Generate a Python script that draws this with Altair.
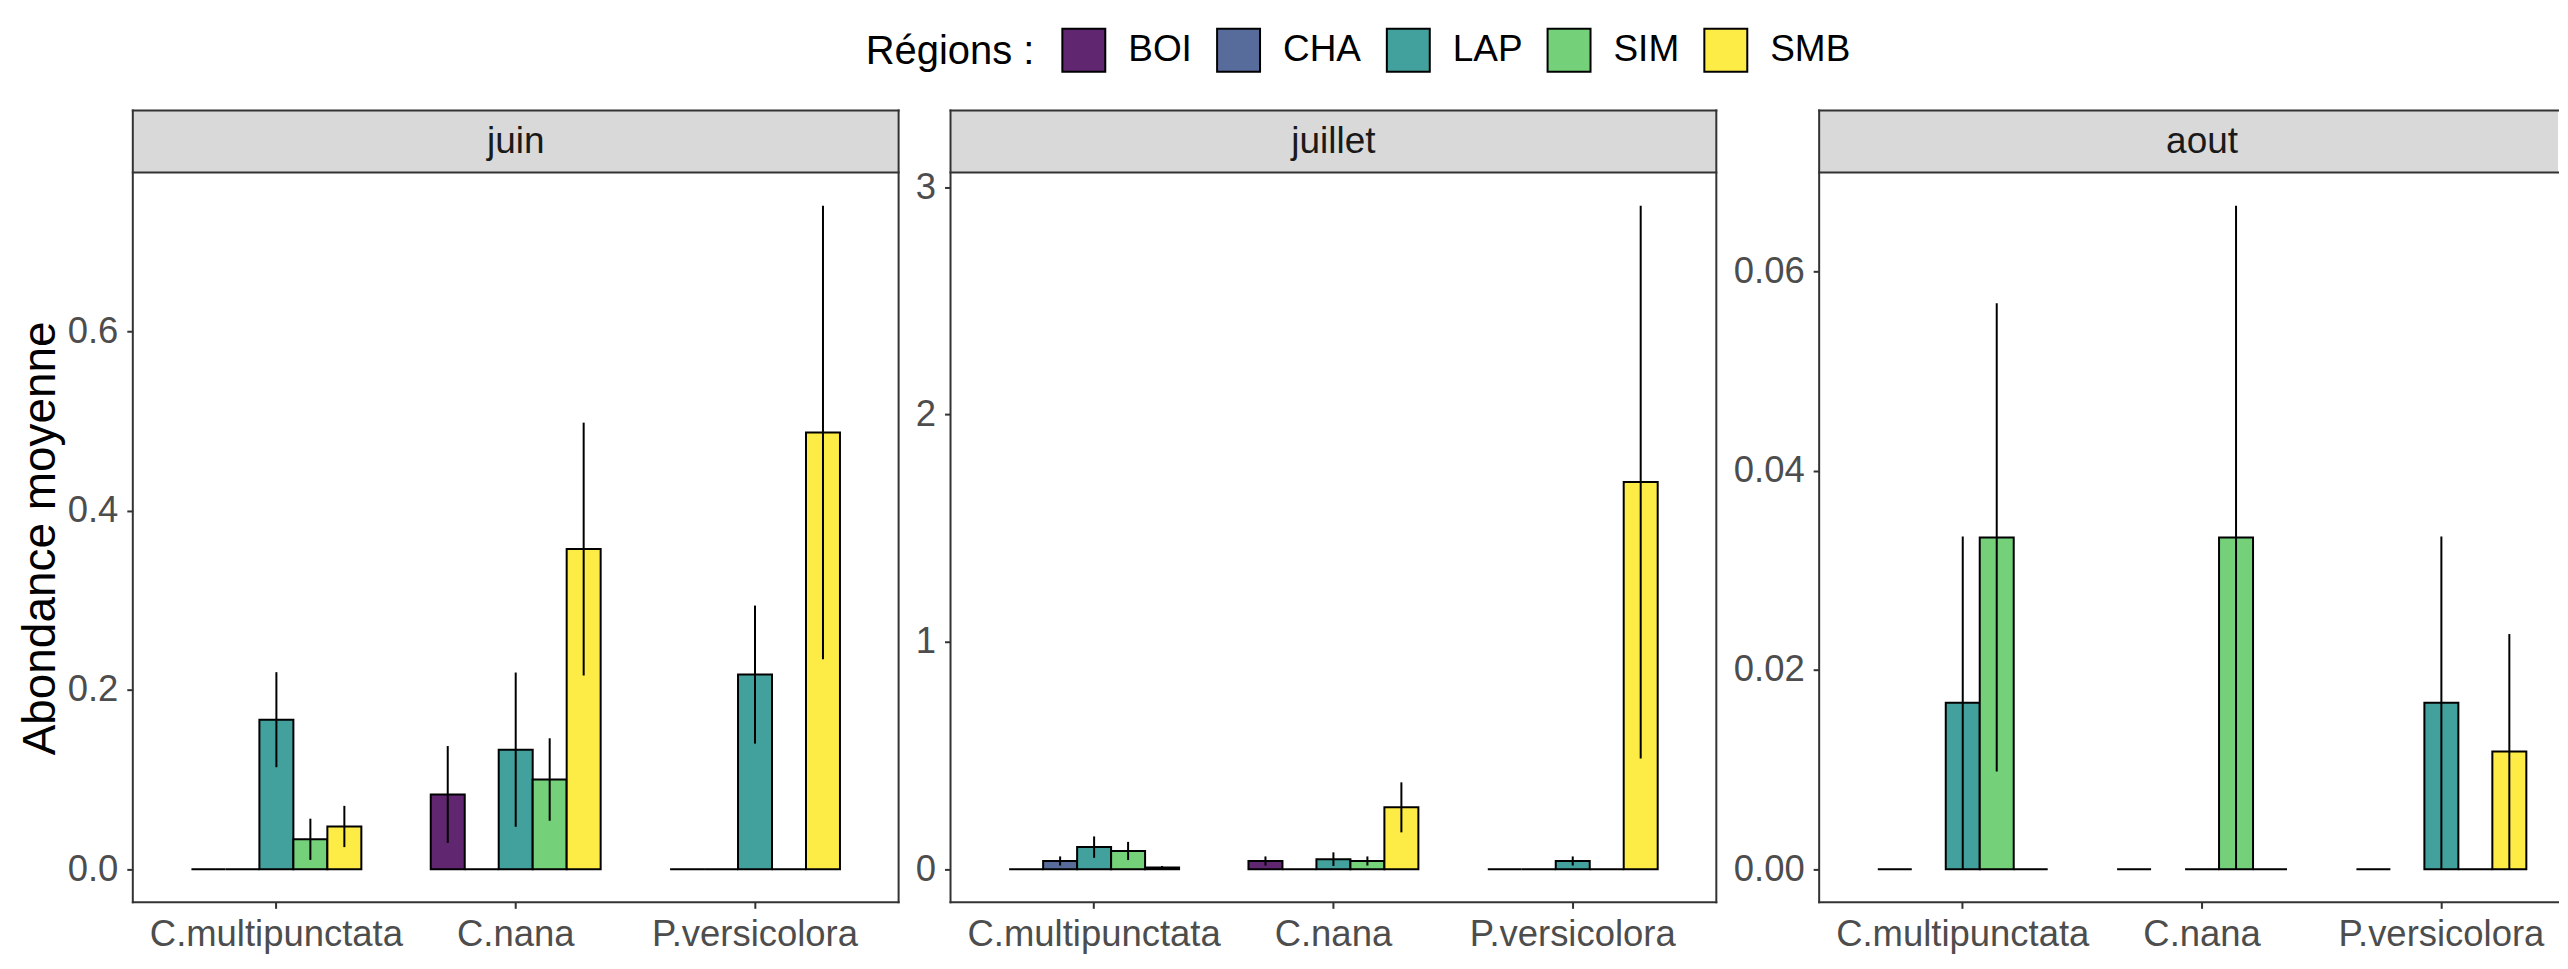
import altair as alt
import pandas as pd

FONT = "Liberation Sans"

regions = ["BOI", "CHA", "LAP", "SIM", "SMB"]
colors = ["#602770", "#586c9c", "#42a19d", "#75d07a", "#fdeb46"]
species = ["C.multipunctata", "C.nana", "P.versicolora"]

# juin : BOI, CHA, LAP, SIM, SMB for each species
juin_regions = ["BOI", "CHA", "LAP", "SIM", "SMB"]
juin_mean = [0, 0, 0.1667, 0.0333, 0.0476,
             0.0833, 0, 0.1333, 0.1000, 0.3570,
             0, 0, 0.2170, 0, 0.4870]
juin_se = [0, 0, 0.053, 0.023, 0.023,
           0.054, 0, 0.086, 0.046, 0.141,
           0, 0, 0.077, 0, 0.253]

juillet_regions = ["BOI", "CHA", "LAP", "SIM", "SMB"]
juillet_mean = [0, 0.036, 0.097, 0.080, 0.007,
                0.036, 0, 0.044, 0.036, 0.272,
                0, 0, 0.036, 0, 1.703]
juillet_se = [0, 0.020, 0.047, 0.040, 0.007,
              0.020, 0, 0.030, 0.020, 0.110,
              0, 0, 0.020, 0, 1.216]

aout_regions = ["BOI", "LAP", "SIM", "SMB"]
aout_mean = [0, 0.0167, 0.0333, 0,
             0, 0, 0.0333, 0,
             0, 0.0167, 0, 0.0118]
aout_se = [0, 0.0167, 0.0235, 0,
           0, 0, 0.0333, 0,
           0, 0.0167, 0, 0.0118]

juin_ticks = [0, 0.2, 0.4, 0.6]
juillet_ticks = [0, 1, 2, 3]
aout_ticks = [0, 0.02, 0.04, 0.06]

W = 767          # full panel width
W3 = 740         # last panel is cut by the picture's right edge
H = 731
SH = 62
BORDER = "#333333"
PI = 0.29
PO = 0.245


def build(month, regs, mean, se, ticks, fmt, first, width, cut):
    rows = []
    n = len(regs)
    for i, sp in enumerate(species):
        for j, r in enumerate(regs):
            m = mean[i * n + j]
            s = se[i * n + j]
            rows.append({"espece": sp, "region": r, "moy": m,
                         "lo": m - s, "hi": m + s, "se": s})
    df = pd.DataFrame(rows)
    top = float(df["hi"].max())
    ex = 0.05 * top
    yscale = alt.Scale(domain=[-ex, top + ex], nice=False, zero=False)
    axis_common = dict(labelFontSize=36.5, labelFont=FONT, labelColor="#4d4d4d",
                       tickColor=BORDER, tickWidth=2, tickSize=6,
                       domain=False, grid=False, labelLimit=400)
    if first:
        yaxis = alt.Axis(values=ticks, format=fmt, labelPadding=9,
                         title="Abondance moyenne", titleFont=FONT,
                         titleFontSize=46, titleFontWeight="normal",
                         titleColor="black", titleAngle=270,
                         titleX=-68, titleY=366, **axis_common)
    else:
        yaxis = alt.Axis(values=ticks, format=fmt, labelPadding=9,
                         title=None, **axis_common)
    # band scale: same step as a full-width panel, even for the cut one
    step = W / (3 - PI + 2 * PO)
    if cut:
        po = (width / step - (3 - PI)) / 2
        start_needed = 0.6 * step - step * (1 - PI) / 2
        align = start_needed / (width - step * (3 - PI))
        xscale = alt.Scale(domain=species, paddingInner=PI, paddingOuter=po, align=align)
    else:
        xscale = alt.Scale(domain=species, paddingInner=PI, paddingOuter=PO)
    x = alt.X("espece:N", sort=species, scale=xscale,
              axis=alt.Axis(title=None, labelAngle=0, labelPadding=8, **axis_common))
    xo = alt.XOffset("region:N", sort=regs,
                     scale=alt.Scale(domain=regs, paddingInner=0, paddingOuter=0))
    color = alt.Color("region:N",
                      scale=alt.Scale(domain=regions, range=colors),
                      legend=alt.Legend(title="Régions :", orient="none",
                                        legendX=734, legendY=-145,
                                        direction="horizontal", titleOrient="left",
                                        titleAnchor="middle", titleBaseline="middle",
                                        titleFont=FONT, titleFontSize=40,
                                        titleFontWeight="normal", titleColor="black",
                                        titlePadding=27,
                                        labelFont=FONT, labelFontSize=37,
                                        labelColor="black", labelOffset=22,
                                        symbolType="square", symbolSize=1849,
                                        symbolStrokeColor="black", symbolStrokeWidth=2,
                                        symbolOpacity=1,
                                        columnPadding=21, padding=0))
    bars = alt.Chart(df).mark_bar(stroke="black", strokeWidth=2).encode(
        x=x, xOffset=xo,
        y=alt.Y("moy:Q", scale=yscale, axis=yaxis),
        y2=alt.datum(0),
        color=color,
    )
    err = alt.Chart(df[df["se"] > 0]).mark_rule(color="black", strokeWidth=2).encode(
        x=x, xOffset=xo,
        y=alt.Y("lo:Q", scale=yscale, axis=yaxis),
        y2="hi:Q",
    )
    sdf = pd.DataFrame({"mois": [month]})
    strip = alt.Chart(sdf).mark_rect(fill="#d9d9d9").encode(
        x=alt.value(0), x2=alt.value(width), y=alt.value(-SH), y2=alt.value(0))
    stext = alt.Chart(sdf).mark_text(font=FONT, fontSize=37, color="#1a1a1a",
                                     baseline="middle").encode(
        x=alt.value(W / 2), y=alt.value(-SH / 2), text="mois:N")

    def hline(yv):
        return alt.Chart(sdf).mark_rule(color=BORDER, strokeWidth=2, strokeCap="square").encode(
            x=alt.value(0), x2=alt.value(width), y=alt.value(yv))

    def vline(xv):
        return alt.Chart(sdf).mark_rule(color=BORDER, strokeWidth=2, strokeCap="square").encode(
            x=alt.value(xv), y=alt.value(-SH), y2=alt.value(H))

    borders = [hline(-SH), hline(0), hline(H), vline(0)]
    if not cut:
        borders.append(vline(width))
    return alt.layer(strip, stext, bars, err, *borders).properties(width=width, height=H)


p1 = build("juin", juin_regions, juin_mean, juin_se, juin_ticks, ".1f", True, W, False)
p2 = build("juillet", juillet_regions, juillet_mean, juillet_se, juillet_ticks, "d", False, W, False)
p3 = build("aout", aout_regions, aout_mean, aout_se, aout_ticks, ".2f", False, W3, True)

chart = alt.hconcat(p1, p2, p3, spacing=14).properties(
    padding={"left": 9, "top": 19, "right": 0, "bottom": 0},
    background="white",
).configure_view(stroke="transparent")

chart.save("out.html", embed_options={"renderer": "svg", "actions": False})
